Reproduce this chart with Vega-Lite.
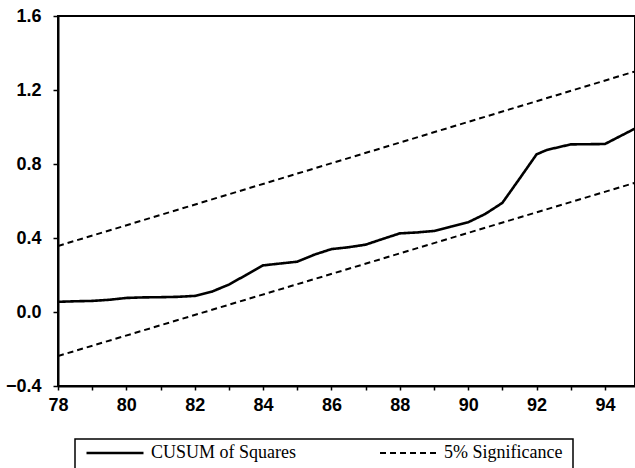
{
  "$schema": "https://vega.github.io/schema/vega-lite/v6.json",
  "width": 577,
  "height": 370,
  "autosize": {"type": "none"},
  "padding": {"left": 58, "top": 16, "right": 0, "bottom": 82},
  "background": "white",
  "config": {
    "view": {"stroke": "black", "strokeWidth": 2},
    "axis": {"grid": false, "domainColor": "black", "domainWidth": 2, "tickColor": "black", "tickWidth": 1.5, "labelColor": "black", "labelFont": "Liberation Sans", "labelFontSize": 18, "labelFontWeight": "bold", "title": null},
    "legend": {"strokeWidth": 1.5}
  },
  "datasets": {
    "series": [
      {"t": 78.0, "v": 0.055, "series": "CUSUM of Squares", "line": "c"},
      {"t": 78.5, "v": 0.058, "series": "CUSUM of Squares", "line": "c"},
      {"t": 79.0, "v": 0.060, "series": "CUSUM of Squares", "line": "c"},
      {"t": 79.5, "v": 0.066, "series": "CUSUM of Squares", "line": "c"},
      {"t": 80.0, "v": 0.076, "series": "CUSUM of Squares", "line": "c"},
      {"t": 80.5, "v": 0.079, "series": "CUSUM of Squares", "line": "c"},
      {"t": 81.0, "v": 0.080, "series": "CUSUM of Squares", "line": "c"},
      {"t": 81.5, "v": 0.082, "series": "CUSUM of Squares", "line": "c"},
      {"t": 82.0, "v": 0.087, "series": "CUSUM of Squares", "line": "c"},
      {"t": 82.5, "v": 0.110, "series": "CUSUM of Squares", "line": "c"},
      {"t": 83.0, "v": 0.148, "series": "CUSUM of Squares", "line": "c"},
      {"t": 83.5, "v": 0.200, "series": "CUSUM of Squares", "line": "c"},
      {"t": 84.0, "v": 0.252, "series": "CUSUM of Squares", "line": "c"},
      {"t": 84.5, "v": 0.262, "series": "CUSUM of Squares", "line": "c"},
      {"t": 85.0, "v": 0.272, "series": "CUSUM of Squares", "line": "c"},
      {"t": 85.5, "v": 0.310, "series": "CUSUM of Squares", "line": "c"},
      {"t": 86.0, "v": 0.340, "series": "CUSUM of Squares", "line": "c"},
      {"t": 86.5, "v": 0.350, "series": "CUSUM of Squares", "line": "c"},
      {"t": 87.0, "v": 0.364, "series": "CUSUM of Squares", "line": "c"},
      {"t": 87.5, "v": 0.395, "series": "CUSUM of Squares", "line": "c"},
      {"t": 88.0, "v": 0.425, "series": "CUSUM of Squares", "line": "c"},
      {"t": 88.5, "v": 0.430, "series": "CUSUM of Squares", "line": "c"},
      {"t": 89.0, "v": 0.438, "series": "CUSUM of Squares", "line": "c"},
      {"t": 89.5, "v": 0.462, "series": "CUSUM of Squares", "line": "c"},
      {"t": 90.0, "v": 0.485, "series": "CUSUM of Squares", "line": "c"},
      {"t": 90.5, "v": 0.530, "series": "CUSUM of Squares", "line": "c"},
      {"t": 91.0, "v": 0.590, "series": "CUSUM of Squares", "line": "c"},
      {"t": 91.5, "v": 0.720, "series": "CUSUM of Squares", "line": "c"},
      {"t": 92.0, "v": 0.852, "series": "CUSUM of Squares", "line": "c"},
      {"t": 92.3, "v": 0.876, "series": "CUSUM of Squares", "line": "c"},
      {"t": 93.0, "v": 0.906, "series": "CUSUM of Squares", "line": "c"},
      {"t": 94.0, "v": 0.908, "series": "CUSUM of Squares", "line": "c"},
      {"t": 95.0, "v": 1.003, "series": "CUSUM of Squares", "line": "c"},
      {"t": 78.0, "v": 0.357, "series": "5% Significance", "line": "u"},
      {"t": 95.0, "v": 1.307, "series": "5% Significance", "line": "u"},
      {"t": 78.0, "v": -0.238, "series": "5% Significance", "line": "l"},
      {"t": 95.0, "v": 0.705, "series": "5% Significance", "line": "l"}
    ]
  },
  "layer": [
    {
      "mark": {"type": "rule", "color": "black", "strokeWidth": 1.3},
      "encoding": {"y": {"datum": 0, "type": "quantitative", "scale": {"domain": [-0.4, 1.6]}}}
    },
    {
      "data": {"name": "series"},
      "mark": {"type": "line", "color": "black", "clip": true},
      "encoding": {
        "x": {
          "field": "t", "type": "quantitative",
          "scale": {"domain": [78, 94.88], "nice": false, "zero": false},
          "axis": {"values": [78,79,80,81,82,83,84,85,86,87,88,89,90,91,92,93,94], "labelExpr": "datum.value % 2 == 0 ? datum.label : ''", "tickSize": 4, "labelPadding": 6, "labelFlush": false}
        },
        "y": {
          "field": "v", "type": "quantitative",
          "scale": {"domain": [-0.4, 1.6], "nice": false, "zero": false},
          "axis": {"values": [-0.4, 0, 0.4, 0.8, 1.2, 1.6], "format": ".1f", "tickSize": 5, "labelPadding": 12}
        },
        "detail": {"field": "line"},
        "strokeWidth": {
          "field": "series", "type": "nominal",
          "scale": {"domain": ["CUSUM of Squares", "5% Significance"], "range": [2.6, 2]},
          "legend": null
        },
        "strokeDash": {
          "field": "series", "type": "nominal",
          "scale": {"domain": ["CUSUM of Squares", "5% Significance"], "range": [[1, 0], [6, 4]]},
          "legend": {
            "title": null,
            "orient": "none",
            "legendX": 17,
            "legendY": 423,
            "direction": "horizontal",
            "symbolType": "stroke",
            "symbolSize": 3249,
            "symbolStrokeWidth": 1.2,
            "symbolStrokeColor": "black",
            "labelFont": "Liberation Serif",
            "labelFontSize": 18,
            "labelColor": "black",
            "labelOffset": 6,
            "labelLimit": 300,
            "clipHeight": 8,
            "columnPadding": 82,
            "padding": 10,
            "strokeColor": "black",
            "fillColor": "white"
          }
        }
      }
    }
  ]
}
